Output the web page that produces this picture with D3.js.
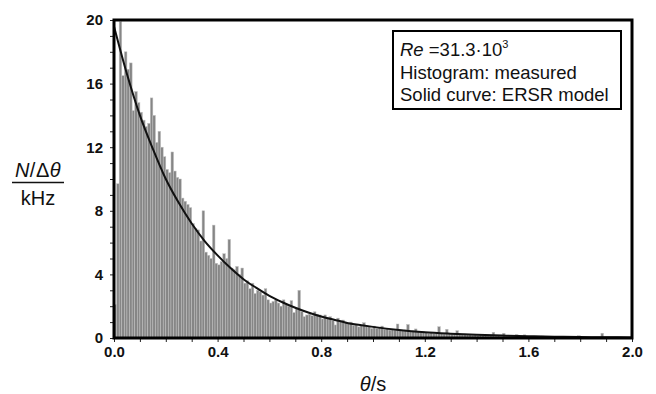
<!DOCTYPE html>
<html>
<head>
<meta charset="utf-8">
<script src="https://cdn.jsdelivr.net/npm/d3@7/dist/d3.min.js"></script>
<style>
  html, body { margin: 0; padding: 0; background: #fff; }
  svg { display: block; }
  text { font-family: "Liberation Sans", Arial, Helvetica, sans-serif; }
</style>
</head>
<body>
<svg id="chart" width="656" height="394"></svg>
<script>
// Histogram of measured durations, bin width 0.01 s (N/Δθ in kHz per bin)
const binWidth = 0.01;
const counts = [
  2.1, 9.7, 19.9, 16.5, 18.0, 16.9, 17.3, 14.3, 15.5, 14.8,
  14.2, 13.7, 13.3, 13.5, 15.1, 14.0, 12.3, 13.0, 12.0, 11.4,
  10.6, 10.4, 11.7, 10.5, 10.1, 10.0, 8.8, 8.6, 8.4, 8.2,
  7.2, 6.9, 6.8, 6.1, 8.0, 5.4, 5.2, 5.0, 7.1, 4.7,
  4.6, 4.8, 5.3, 5.0, 6.2, 4.4, 4.3, 4.5, 4.0, 4.4,
  3.45, 3.6, 3.1, 3.45, 2.8, 3.0, 2.9, 2.7, 3.1, 2.4,
  2.2, 2.3, 2.4, 2.2, 2.0, 2.4, 2.1, 2.0, 2.35, 1.6,
  1.9, 3.0, 1.65, 1.34, 1.45, 1.5, 1.4, 1.65, 1.5, 1.45,
  1.2, 1.45, 1.3, 1.34, 1.1, 0.82, 1.25, 1.1, 1.13, 1.0,
  0.9, 1.0, 0.8, 0.85, 0.7, 0.8, 0.96, 0.75, 0.7, 0.6,
  0.75, 0.6, 0.65, 0.75, 0.55, 0.6, 0.5, 0.55, 0.5, 0.88,
  0.5, 0.45, 0.5, 0.85, 0.4, 0.45, 0.57, 0.4, 0.35, 0.4,
  0.35, 0.3, 0.35, 0.3, 0.35, 0.71, 0.3, 0.25, 0.55, 0.3,
  0.25, 0.3, 0.46, 0.25, 0.2, 0.25, 0.2, 0.22, 0.18, 0.2,
  0.15, 0.2, 0.15, 0.18, 0.12, 0.15, 0.36, 0.12, 0.15, 0.1,
  0.3, 0.1, 0.12, 0.1, 0.08, 0.22, 0.08, 0.1, 0.2, 0.08,
  0.08, 0.07, 0.1, 0.06, 0.08, 0.12, 0.06, 0.07, 0.05, 0.06,
  0.05, 0.06, 0.05, 0.08, 0.05, 0.04, 0.05, 0.06, 0.04, 0.15,
  0.04, 0.05, 0.04, 0.03, 0.05, 0.04, 0.03, 0.04, 0.3, 0.03,
  0.04, 0.03, 0.03, 0.04, 0.03, 0.02, 0.03, 0.03, 0.02, 0.03
];

// ERSR model curve, sampled in θ (s) and N/Δθ (kHz)
const modelTheta = [0.00, 0.05, 0.10, 0.15, 0.20, 0.25, 0.30, 0.35, 0.40, 0.45,
                    0.50, 0.55, 0.60, 0.65, 0.70, 0.75, 0.80, 0.85, 0.90, 0.95,
                    1.00, 1.10, 1.20, 1.30, 1.40, 1.50, 1.60, 1.70, 1.80, 1.90, 2.00];
const modelValue = [19.6, 16.6, 14.0, 11.9, 10.0, 8.5, 7.2, 6.1, 5.2, 4.4,
                    3.7, 3.15, 2.65, 2.25, 1.9, 1.6, 1.35, 1.15, 0.95, 0.82,
                    0.7, 0.5, 0.36, 0.27, 0.2, 0.15, 0.11, 0.08, 0.06, 0.045, 0.035];

// Axis ticks
const yTickValues = d3.range(0, 21, 1);
const yLabelValues = [0, 4, 8, 12, 16, 20];
const xTickValues = d3.range(0, 21, 1).map(i => i / 10);
const xLabelValues = [0, 0.4, 0.8, 1.2, 1.6, 2.0];

const legendLines = ["Histogram: measured", "Solid curve: ERSR model"];

const svg = d3.select("#chart");
const margin = { left: 114, right: 24, top: 20, bottom: 56 };
const W = 656, H = 394;
const x = d3.scaleLinear().domain([0, 2]).range([margin.left, W - margin.right]);
const y = d3.scaleLinear().domain([0, 20]).range([H - margin.bottom, margin.top]);

// Histogram bars
svg.append("g")
  .selectAll("rect")
  .data(counts)
  .join("rect")
  .attr("x", (d, i) => x(i * binWidth))
  .attr("width", x(binWidth) - x(0))
  .attr("y", d => y(d))
  .attr("height", d => y(0) - y(d))
  .attr("fill", "#868686")
  .attr("stroke", "#c2c2c2")
  .attr("stroke-width", 0.5);

// Model curve
const line = d3.line()
  .x((d, i) => x(modelTheta[i]))
  .y(d => y(d))
  .curve(d3.curveMonotoneX);
svg.append("path")
  .datum(modelValue)
  .attr("d", line)
  .attr("fill", "none")
  .attr("stroke", "#111")
  .attr("stroke-width", 2);

// Axes
const yAxis = d3.axisLeft(y)
  .tickValues(yTickValues)
  .tickSize(4)
  .tickPadding(7)
  .tickFormat(d => yLabelValues.includes(d) ? d3.format("d")(d) : "");
const gy = svg.append("g").attr("transform", `translate(${margin.left},0)`).call(yAxis);

const xAxis = d3.axisBottom(x)
  .tickValues(xTickValues)
  .tickSize(4)
  .tickPadding(4)
  .tickFormat(d => xLabelValues.some(v => Math.abs(v - d) < 1e-9) ? d3.format(".1f")(d) : "");
const gx = svg.append("g").attr("transform", `translate(0,${H - margin.bottom})`).call(xAxis);

[gx, gy].forEach(g => {
  g.select(".domain").remove();
  g.selectAll(".tick line").attr("stroke", "#222").attr("stroke-width", 1);
  g.selectAll(".tick text")
    .attr("fill", "#111")
    .style("font-size", "15px")
    .style("font-weight", "bold")
    .style("font-family", "'Liberation Sans', Arial, sans-serif");
});

// Plot frame
svg.append("rect")
  .attr("x", x(0)).attr("y", y(20))
  .attr("width", x(2) - x(0)).attr("height", y(0) - y(20))
  .attr("fill", "none").attr("stroke", "#000").attr("stroke-width", 3);

// Legend box
const lg = svg.append("g");
lg.append("rect")
  .attr("x", 393).attr("y", 31).attr("width", 228).attr("height", 78)
  .attr("fill", "#fff").attr("stroke", "#000").attr("stroke-width", 2);
const t0 = lg.append("text").attr("x", 400).attr("y", 56).style("font-size", "18.5px").attr("fill", "#111");
t0.append("tspan").style("font-style", "italic").text("Re");
t0.append("tspan").text(" =31.3·10");
t0.append("tspan").attr("dy", -8).style("font-size", "11px").text("3");
legendLines.forEach((s, i) => {
  lg.append("text").attr("x", 400).attr("y", 79 + i * 22)
    .style("font-size", "18.5px").attr("fill", "#111").text(s);
});

// Y axis label: N/Δθ over kHz
const yl = svg.append("g");
const yt = yl.append("text").attr("x", 38).attr("y", 177).attr("text-anchor", "middle")
  .style("font-size", "20px").style("letter-spacing", "0.5px").attr("fill", "#111");
yt.append("tspan").style("font-style", "italic").text("N");
yt.append("tspan").text("/Δ");
yt.append("tspan").style("font-style", "italic").text("θ");
yl.append("line").attr("x1", 12).attr("x2", 64).attr("y1", 182.5).attr("y2", 182.5)
  .attr("stroke", "#111").attr("stroke-width", 1.5);
yl.append("text").attr("x", 38).attr("y", 205).attr("text-anchor", "middle")
  .style("font-size", "20px").attr("fill", "#111").text("kHz");

// X axis label: θ/s
const xt = svg.append("text").attr("x", x(1)).attr("y", 391).attr("text-anchor", "middle")
  .style("font-size", "20px").attr("fill", "#111");
xt.append("tspan").style("font-style", "italic").text("θ");
xt.append("tspan").text("/s");
</script>
</body>
</html>
